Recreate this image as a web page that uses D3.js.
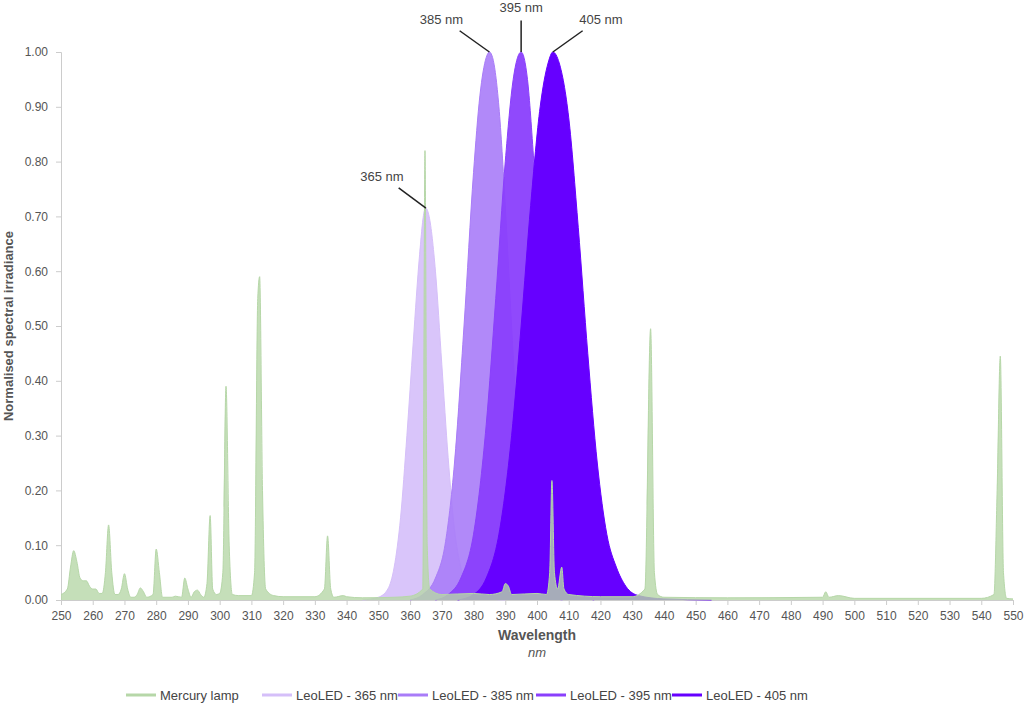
<!DOCTYPE html>
<meta charset="utf-8">
<script src="https://d3js.org/d3.v7.min.js"></script>
<style>
body { margin: 0; font-family: "Liberation Sans", Arial, sans-serif; }
.tick text { fill: #555; font-size: 12px; }
</style>
<div id="chart"></div>
<script>
// Series data: [wavelength nm, normalised irradiance]
var mercury = [[250,0.01],[252,0.02],[253,0.06],[254,0.09],[255,0.07],[256,0.04],[257,0.035],[258,0.035],[259,0.025],[260,0.02],[261,0.02],[262,0.012],[263,0.012],[264,0.05],[265,0.137],[266,0.05],[267,0.01],[268,0.01],[269,0.02],[270,0.048],[271,0.02],[272,0.005],[273,0.005],[274,0.01],[275,0.022],[276,0.015],[277,0.005],[279,0.01],[280,0.093],[281,0.05],[282,0.005],[285,0.005],[286,0.007],[288,0.005],[289,0.04],[290,0.02],[291,0.005],[292,0.015],[293,0.018],[294,0.01],[295,0.005],[296,0.03],[297,0.154],[297.8,0.02],[299,0.01],[300,0.012],[301,0.05],[302,0.39],[303,0.1],[304,0.01],[306,0.008],[310,0.008],[311,0.05],[312,0.55],[312.6,0.59],[313.5,0.2],[314.5,0.02],[317,0.008],[320,0.006],[330,0.006],[333,0.02],[334,0.117],[335,0.02],[336,0.005],[339,0.008],[340,0.006],[345,0.004],[355,0.005],[360,0.007],[364,0.02],[364.7,0.82],[365.4,0.1],[366.2,0.02],[370,0.01],[380,0.012],[385,0.01],[389,0.015],[390,0.03],[391,0.025],[392,0.01],[400,0.012],[403,0.01],[404,0.05],[404.7,0.218],[405.5,0.05],[406.5,0.02],[407.8,0.06],[408.5,0.02],[410,0.01],[420,0.006],[430,0.006],[434,0.02],[435.8,0.495],[437,0.05],[438,0.01],[440,0.005],[460,0.004],[490,0.005],[491,0.015],[492,0.005],[495,0.008],[500,0.003],[540,0.003],[544,0.01],[545,0.2],[546,0.445],[547,0.05],[548,0.003],[550,0.002]];
var led365 = [[345,0],[350,0.005],[353,0.02],[355,0.06],[357,0.15],[359,0.3],[361,0.47],[363,0.63],[364.5,0.71],[365,0.715],[366,0.7],[368,0.6],[370,0.43],[372,0.26],[374,0.13],[376,0.06],[378,0.025],[380,0.01],[385,0.002],[390,0]];
var led385 = [[360,0],[364,0.01],[368,0.04],[371,0.1],[374,0.25],[377,0.5],[380,0.78],[382,0.92],[384,0.99],[385,1.0],[386,0.99],[388,0.9],[390,0.72],[392,0.5],[394,0.3],[396,0.15],[398,0.07],[400,0.03],[403,0.01],[408,0]];
var led395 = [[368,0],[372,0.01],[376,0.04],[380,0.12],[384,0.32],[387,0.55],[390,0.8],[392.5,0.95],[395,1.0],[397,0.95],[399,0.8],[401,0.62],[403,0.42],[405,0.25],[407,0.12],[409,0.05],[412,0.015],[418,0]];
var led405 = [[375,0],[380,0.01],[384,0.04],[388,0.12],[392,0.3],[395,0.5],[398,0.72],[401,0.9],[403.5,0.98],[405,1.0],[407,0.98],[410,0.88],[413,0.68],[416,0.45],[419,0.25],[422,0.12],[425,0.06],[428,0.025],[432,0.008],[440,0.002],[455,0]];

var seriesNames = ["Mercury lamp","LeoLED - 365 nm","LeoLED - 385 nm","LeoLED - 395 nm","LeoLED - 405 nm"];
var seriesColors = ["#b6d7a8","#d5bff9","#a97cf8","#8a3ffc","#6600ff"];
var peakLabels = [{name:"365 nm", x:365, y:0.715, dx:-44, dy:-24}, {name:"385 nm", x:385, y:1.0, dx:-48, dy:-25},
                  {name:"395 nm", x:395, y:1.0, dx:0, dy:-37}, {name:"405 nm", x:405, y:1.0, dx:48, dy:-25}];
var xTicks = d3.range(250, 551, 10);
var yTicks = d3.range(0, 1.001, 0.1);

var W = 1024, H = 705;
var margin = {top: 52, right: 11, bottom: 105, left: 61};
var width = W - margin.left - margin.right, height = H - margin.top - margin.bottom;

var svg = d3.select("#chart").append("svg").attr("width", W).attr("height", H)
  .append("g").attr("transform", "translate(" + margin.left + "," + margin.top + ")");

var x = d3.scaleLinear().domain([250, 550]).range([0, width]);
var y = d3.scaleLinear().domain([0, 1]).range([height, 0]);

var yAxis = svg.append("g").call(d3.axisLeft(y).tickValues(yTicks).tickFormat(d3.format(".2f")).tickSize(5).tickPadding(8));
yAxis.select(".domain").attr("stroke", "#ccc");
yAxis.selectAll(".tick line").attr("stroke", "#ccc");

var xAxis = svg.append("g").attr("transform", "translate(0," + height + ")")
  .call(d3.axisBottom(x).tickValues(xTicks).tickSize(5).tickPadding(6));
xAxis.select(".domain").attr("stroke", "#ccc");
xAxis.selectAll(".tick line").attr("stroke", "#ccc");

var area = d3.area().curve(d3.curveMonotoneX).x(function(d){ return x(d[0]); }).y0(y(0)).y1(function(d){ return y(d[1]); });
var line = d3.line().curve(d3.curveMonotoneX).x(function(d){ return x(d[0]); }).y(function(d){ return y(d[1]); });

var order = [1, 2, 3, 4, 0];
var all = [mercury, led365, led385, led395, led405];
var opac = [0.8, 0.9, 0.9, 0.95, 1];
order.forEach(function(i) {
  svg.append("path").datum(all[i]).attr("d", area).attr("fill", seriesColors[i]).attr("fill-opacity", opac[i]);
  svg.append("path").datum(all[i]).attr("d", line).attr("fill", "none").attr("stroke", seriesColors[i]).attr("stroke-width", 1);
});

peakLabels.forEach(function(p) {
  var px = x(p.x), py = y(p.y);
  svg.append("line").attr("x1", px).attr("y1", py).attr("x2", px + p.dx * 0.62).attr("y2", py + p.dy * 0.85)
    .attr("stroke", "#222").attr("stroke-width", 1.5);
  svg.append("text").attr("x", px + p.dx).attr("y", py + p.dy - 3)
    .attr("text-anchor", "middle").attr("font-size", 13).attr("fill", "#444").text(p.name);
});

svg.append("text").attr("x", width / 2).attr("y", height + 40).attr("text-anchor", "middle")
  .attr("font-size", 14).attr("font-weight", "bold").attr("fill", "#555").text("Wavelength");
svg.append("text").attr("x", width / 2).attr("y", height + 57).attr("text-anchor", "middle")
  .attr("font-size", 13).attr("font-style", "italic").attr("fill", "#555").text("nm");
svg.append("text").attr("transform", "translate(" + (-48) + "," + (height / 2) + ") rotate(-90)")
  .attr("text-anchor", "middle").attr("font-size", 13).attr("font-weight", "bold").attr("fill", "#555")
  .text("Normalised spectral irradiance");

var legendX = [126, 262, 398, 536, 672];
var lg = svg.append("g").attr("transform", "translate(" + (-margin.left) + "," + (695 - margin.top) + ")");
seriesNames.forEach(function(n, i) {
  lg.append("line").attr("x1", legendX[i]).attr("x2", legendX[i] + 30).attr("y1", 0).attr("y2", 0)
    .attr("stroke", seriesColors[i]).attr("stroke-width", 3);
  lg.append("text").attr("x", legendX[i] + 34).attr("y", 5).attr("font-size", 13).attr("fill", "#444").text(n);
});
</script>
